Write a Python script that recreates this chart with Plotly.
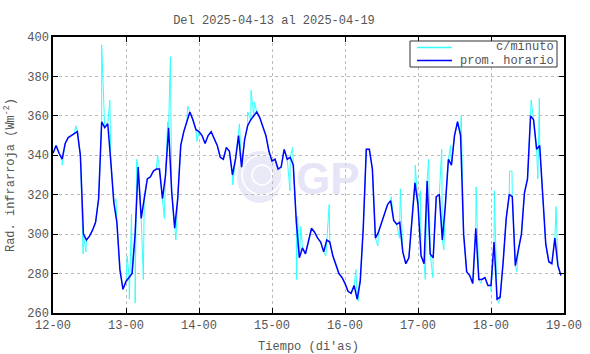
import plotly.graph_objects as go
import pandas as pd

# ---- data ----
start_time = "2025-04-12 00:00"

hourly_values = [
    341, 345, 341, 338, 346, 349, 350, 351, 352, 340, 300, 297, 299, 302, 306, 318,
    357, 354, 356, 337, 316, 306, 282, 272, 276, 278, 280, 300, 334, 308, 319, 328,
    329, 332, 333, 333, 318, 330, 354, 322, 303, 318, 345, 352, 357, 362, 358, 353,
    352, 350, 346, 350, 352, 348, 345, 339, 338, 344, 342, 330, 338, 350, 334, 348,
    355, 358, 360, 362, 359, 354, 350, 342, 337, 338, 333, 334, 343, 338, 339, 335,
    306, 288, 293, 290, 296, 303, 301, 298, 296, 291, 297, 296, 289, 285, 280, 278,
    275, 271, 270, 274, 267, 276, 303, 343, 343, 333, 298, 301, 306, 310, 315, 317,
    307, 305, 306, 291, 285, 288, 305, 326, 315, 289, 285, 327, 290, 288, 319, 320,
    297, 315, 338, 335, 350, 357, 350, 300, 281, 279, 275, 303, 277, 277, 278, 274,
    274, 296, 267, 268, 286, 308, 320, 319, 284, 293, 300, 321, 328, 360, 358, 343,
    345, 320, 295, 286, 285, 298, 284, 279,
]

# minute-data excursions (hour offset, value)
minute_spike_hours = [
    3.0, 7.5, 9.9, 10.8, 16.0, 18.7, 20.7, 24.4, 25.1, 25.8, 27.0, 27.5, 29.7, 34.4,
    36.6, 37.7, 38.6, 40.4, 44.3, 47.3, 59.1, 61.3, 64.0, 65.1, 66.2, 77.9, 78.8,
    80.1, 80.4, 81.5, 89.7, 90.8, 99.6, 100.3, 106.8, 111.2, 113.9, 114.2, 119.1,
    120.8, 122.4, 123.5, 124.9, 127.8, 128.5, 130.7, 134.2, 139.1, 140.7, 144.0,
    145.1, 146.5, 150.1, 150.9, 152.5, 157.2, 159.4, 159.9, 165.4,
]
minute_spike_values = [
    335, 355, 290, 291, 396, 368, 318, 289, 267, 310, 265, 338, 277, 340,
    308, 357, 390, 297, 365, 347, 325, 356, 362, 373, 367, 322, 344,
    277, 309, 304, 289, 315, 282, 266, 294, 319, 298, 323, 335,
    322, 277, 338, 278, 343, 292, 345, 360, 324, 275, 271,
    322, 265, 332, 332, 281, 368, 328, 369, 314,
]

y_ticks = [260, 280, 300, 320, 340, 360, 380, 400]
series_names = ["c/minuto", "prom. horario"]
series_colors = ["#33FFFF", "#0000FF"]

# ---- build series ----
t0 = pd.Timestamp(start_time)
hourly_times = [t0 + pd.Timedelta(hours=i) for i in range(len(hourly_values))]

pts = [(float(i), v) for i, v in enumerate(hourly_values)]
pts += list(zip(minute_spike_hours, minute_spike_values))
pts.sort(key=lambda p: p[0])
minute_times = [t0 + pd.Timedelta(hours=h) for h, _ in pts]
minute_vals = [v for _, v in pts]

FONT = "Liberation Mono, DejaVu Sans Mono, monospace"
TXT = "#555555"

L, R, T, B, W, H = 53, 26, 37, 41, 590, 354
PW, PH = W - L - R, H - T - B


def px(x):
    return (x - L) / PW


def py(y):
    return (H - B - y) / PH


fig = go.Figure()
fig.add_trace(go.Scatter(
    x=minute_times, y=minute_vals, mode="lines", name=series_names[0],
    line=dict(color=series_colors[0], width=1), showlegend=False,
))
fig.add_trace(go.Scatter(
    x=hourly_times, y=hourly_values, mode="lines", name=series_names[1],
    line=dict(color=series_colors[1], width=1.5), showlegend=False,
))

# watermark logo
fig.add_shape(type="circle", xref="paper", yref="paper",
              x0=px(237), x1=px(282), y0=py(203), y1=py(151),
              fillcolor="#E9E9F8", line=dict(width=0), layer="below")
for r in (10, 20, 30):
    fig.add_shape(type="circle", xref="paper", yref="paper",
                  x0=px(262 - r), x1=px(262 + r), y0=py(175 + r), y1=py(175 - r),
                  line=dict(color="white", width=1.5), layer="below")
fig.add_annotation(x=px(328), y=py(178), xref="paper", yref="paper",
                   text="<b>GP</b>", showarrow=False,
                   font=dict(family="Liberation Sans, Arial", size=44,
                             color="rgba(212,212,242,0.6)"))

# legend box (drawn as in reference)
fig.add_shape(type="rect", xref="paper", yref="paper",
              x0=px(410), x1=px(557), y0=py(67), y1=py(41),
              fillcolor="white", line=dict(color="#333333", width=1))
for i, (nm, col) in enumerate(zip(series_names, series_colors)):
    yy = 47.5 + 13 * i
    fig.add_shape(type="line", xref="paper", yref="paper",
                  x0=px(417), x1=px(452), y0=py(yy), y1=py(yy),
                  line=dict(color=col, width=1.5))
    fig.add_annotation(x=px(556), y=py(yy), xref="paper", yref="paper",
                       text=nm, showarrow=False, xanchor="right", yanchor="middle",
                       font=dict(family=FONT, size=12, color=TXT))

fig.update_layout(
    width=W, height=H,
    margin=dict(l=L, r=R, t=T, b=B),
    paper_bgcolor="white", plot_bgcolor="white",
    font=dict(family=FONT, size=12, color=TXT),
    title=dict(text="Del 2025-04-13 al 2025-04-19", xref="container", x=274 / W,
               xanchor="center", y=1 - 20 / H, yanchor="middle",
               font=dict(family=FONT, size=12, color=TXT)),
    showlegend=False,
)

fig.update_xaxes(
    range=[t0, t0 + pd.Timedelta(days=7)],
    dtick=86400000, tickformat="%d-%H",
    showgrid=True, gridcolor="#BBBBBB", griddash="dot", gridwidth=1,
    showline=True, linecolor="black", linewidth=1.5, mirror="ticks",
    ticks="inside", ticklen=5, tickcolor="black",
    tickfont=dict(family=FONT, size=12, color=TXT),
    title=dict(text="Tiempo (di'as)", standoff=9,
               font=dict(family=FONT, size=12, color=TXT)),
    zeroline=False, automargin=False,
)
fig.update_yaxes(
    range=[260, 400], tickvals=y_ticks,
    showgrid=True, gridcolor="#BBBBBB", griddash="dot", gridwidth=1,
    showline=True, linecolor="black", linewidth=1.5, mirror="ticks",
    ticks="inside", ticklen=5, tickcolor="black",
    tickfont=dict(family=FONT, size=12, color=TXT),
    title=dict(text="Rad. infrarroja (Wm<sup>-2</sup>)", standoff=10,
               font=dict(family=FONT, size=12, color=TXT)),
    zeroline=False, automargin=False,
)

fig.write_html("out.html")
